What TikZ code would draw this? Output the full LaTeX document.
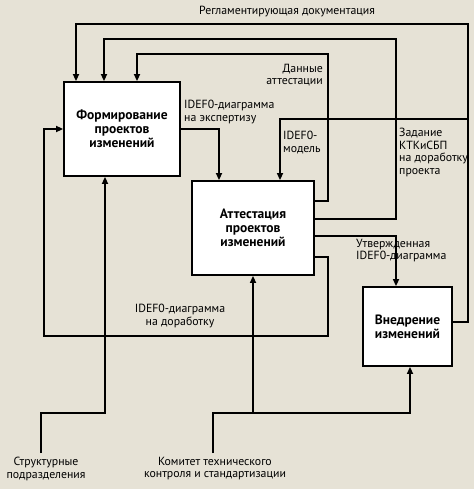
\documentclass[tikz,border=0pt]{standalone}
\usepackage{fontspec}
\setmainfont{PT Sans}
\usetikzlibrary{arrows.meta,positioning}
\definecolor{paper}{RGB}{230,226,214}
\tikzset{
  proc/.style ={draw=black,fill=white,line width=1.8pt,inner sep=2pt,
                align=center,font=\bfseries\fontsize{13.5}{14}\selectfont},
  flow/.style ={-{Triangle[length=7pt,width=6pt]},line width=1.6pt,
                line join=miter},
  lbl/.style  ={font=\fontsize{11.8}{12.5}\selectfont,inner sep=0pt},
}

\begin{document}
\begin{tikzpicture}[x=1pt, y=-1pt]

\fill[paper] (0,0) rectangle (474,489);
\useasboundingbox (0,0) rectangle (474,489);

%% ---------------- blocks ----------------
\node[proc,minimum width=116pt,minimum height=94pt] (A) at (122,129)
  {Формирование\\проектов\\изменений};
\node[proc,minimum width=122pt,minimum height=94pt] (B) at (253,228)
  {Аттестация\\проектов\\изменений};
\node[proc,minimum width=89pt,minimum height=79pt] (C) at (407.5,326.5)
  {Внедрение\\изменений};

%% ---------------- sources ----------------
\node[lbl,align=center,anchor=north] (s1) at (46,457)
  {Структурные\\подразделения};
\node[lbl,align=center,anchor=north] (s2) at (215,457)
  {Комитет технического\\контроля и стандартизации};

%% ---------------- bends ----------------
\coordinate (rr) at (468,24);
\coordinate (rz) at (396,39);
\coordinate (rd) at (328,54);
\coordinate (jm) at (468,119);
\coordinate (rb1) at (328,336);
\coordinate (rb2) at (44,336);
\coordinate (k1) at (105,413);
\coordinate (kc) at (410,413);
\coordinate (kb) at (253,413);

%% ---------------- feedback from above ----------------
\draw[flow] ([yshift=4.5pt]C.east) -| (rr) -| ([xshift=-46pt]A.north);
\draw[flow] ([yshift=9pt]B.east) -| (rz) -| ([xshift=-18pt]A.north);
\draw[flow] ([yshift=27pt]B.east) -| (rd) -| ([xshift=15pt]A.north);
\draw[flow] (jm) -| ([xshift=27pt]B.north);

%% ---------------- main flow ----------------
\draw[flow] (A.east) -| ([xshift=-34pt]B.north);
\draw[flow] ([yshift=-8pt]B.east) -| ([xshift=-11.5pt]C.north);
\draw[flow] ([yshift=-29pt]B.east) -| (rb1) -- (rb2) |- (A.west);

%% ---------------- mechanisms ----------------
\draw[flow] ([xshift=-5pt,yshift=4pt]s1.north) |- (k1) -- ([xshift=-17pt]A.south);
\draw[flow] ([xshift=-2pt,yshift=4pt]s2.north) |- (kc) -- ([xshift=2.5pt]C.south);
\draw[flow] (kb) -- (B.south);

%% ---------------- labels ----------------
\node[lbl] at (287,12) {Регламентирующая документация};
\node[lbl,align=right,anchor=north east] at (323,64) {Данные\\аттестации};
\node[lbl,align=left,anchor=north west] at (184,100) {IDEF0-диаграмма\\на экспертизу};
\node[lbl,align=left,anchor=north west] at (283,131) {IDEF0-\\модель};
\node[lbl,align=left,anchor=north west] at (399,128)
  {Задание\\КТКиСБП\\на доработку\\проекта};
\node[lbl,align=left,anchor=north west] at (356,239) {Утвержденная\\IDEF0-диаграмма};
\node[lbl,align=center,anchor=north] at (180,304) {IDEF0-диаграмма\\на доработку};

\end{tikzpicture}
\end{document}
